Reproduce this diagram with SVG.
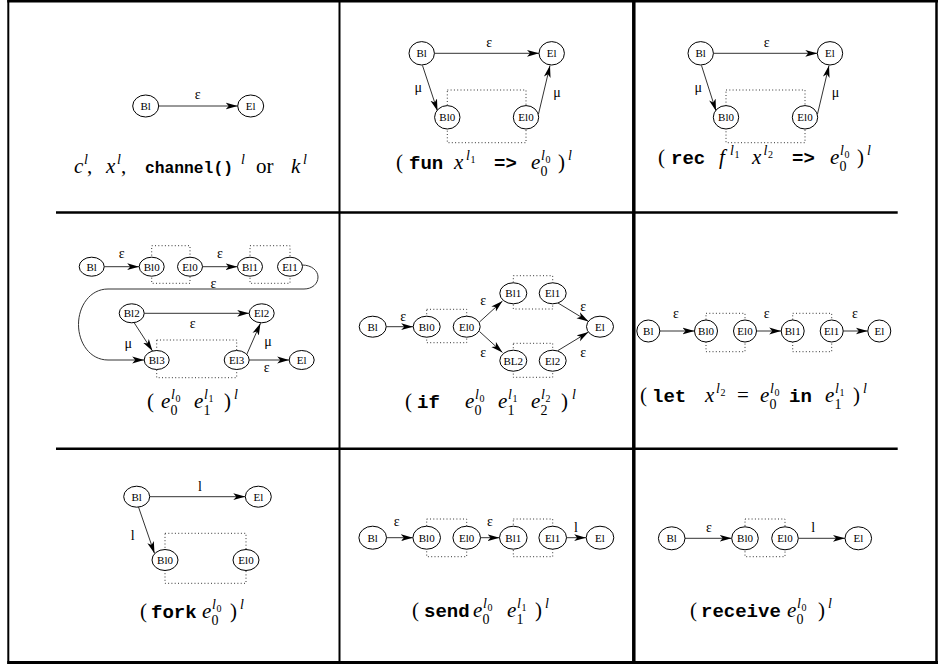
<svg xmlns="http://www.w3.org/2000/svg" width="938" height="665" viewBox="0 0 938 665">
<defs>
<marker id="ah" markerUnits="userSpaceOnUse" markerWidth="12" markerHeight="8" refX="12" refY="4" orient="auto" viewBox="0 0 12 8"><path d="M0,0.6 L12,4 L0,7.4 L3,4 Z" fill="#000"/></marker>
</defs>
<style>
.n ellipse{fill:#fff;stroke:#000;stroke-width:1}
.n text{font-family:"Liberation Serif",serif;font-size:11px;text-anchor:middle}
.e{fill:none;stroke:#333;stroke-width:1;marker-end:url(#ah)}
.lb{font-family:"Liberation Serif",serif;font-size:14px;text-anchor:middle}
.box{fill:none;stroke:#333;stroke-width:1;stroke-dasharray:1 2.3}
.cap text{font-family:"Liberation Serif",serif;font-size:21px}
.cap .i{font-style:italic}
.cap .t{font-family:"Liberation Mono",monospace;font-size:19px;font-weight:bold}
.cap .s{font-style:italic;font-size:14px}
.cap .d{font-size:10px}
.cap .b{font-size:14px}
</style>
<rect width="938" height="665" fill="#fff"/>
<g id="frame" stroke="#000" fill="none">
<line x1="8.3" y1="0" x2="8.3" y2="664" stroke-width="2"/>
<line x1="7.3" y1="1.2" x2="938" y2="1.2" stroke-width="2.4"/>
<line x1="7.3" y1="662.5" x2="938" y2="662.5" stroke-width="3"/>
<line x1="936.5" y1="0" x2="936.5" y2="664" stroke-width="2.5"/>
<line x1="339.5" y1="0" x2="339.5" y2="664" stroke-width="2"/>
<line x1="633.8" y1="0" x2="633.8" y2="664" stroke-width="3.5"/>
<line x1="56" y1="212.5" x2="897.7" y2="212.5" stroke-width="2.5"/>
<line x1="56" y1="448.8" x2="897.7" y2="448.8" stroke-width="2.5"/>
</g>
<g id="boxes">
<rect class="box" x="447.3" y="90" width="78.7" height="52.7"/>
<rect class="box" x="726" y="90" width="79" height="52.7"/>
<rect class="box" x="151.7" y="245.7" width="38.3" height="37.6"/>
<rect class="box" x="250" y="245.7" width="40" height="37.6"/>
<rect class="box" x="156.7" y="340" width="80" height="37.7"/>
<rect class="box" x="426.7" y="309.3" width="40" height="33.4"/>
<rect class="box" x="513.3" y="275.7" width="39.4" height="33.3"/>
<rect class="box" x="513.3" y="343.3" width="39.4" height="34"/>
<rect class="box" x="706" y="313.3" width="39" height="38.4"/>
<rect class="box" x="792.7" y="313.3" width="39" height="38.4"/>
<rect class="box" x="165" y="533.3" width="81" height="50"/>
<rect class="box" x="426.7" y="519" width="40" height="37.7"/>
<rect class="box" x="513.3" y="519" width="39.4" height="37.7"/>
<rect class="box" x="745" y="519" width="40" height="37.7"/>
</g>
<g id="connectors">
<path class="e" d="M158.7,106 L237.7,106"/>
<path class="e" d="M434.4,53.3 L539,53.3"/>
<path class="e" d="M422.5,65.5 L437.5,111"/>
<path class="e" d="M538.5,114 L550,65.5"/>
<path class="e" d="M713.4,53.3 L817.3,53.3"/>
<path class="e" d="M701.5,65.5 L716,111"/>
<path class="e" d="M817.5,114 L829,65.5"/>
<path class="e" d="M104.2,266.7 L139.2,266.7"/>
<path class="e" d="M202.5,266.7 L237.5,266.7"/>
<path class="e" d="M302,265 C312,265 318,271 318,277 C318,284 312,289 304,289 L108,289 C90,289 78.5,306 78.5,324.5 C78.5,343 90,360 108,360 L144.2,360"/>
<path class="e" d="M144.2,313.3 L249.2,313.3"/>
<path class="e" d="M134,322.5 L152.5,351"/>
<path class="e" d="M246.5,355 L260.5,323.2"/>
<path class="e" d="M249.2,360 L289.2,360"/>
<path class="e" d="M386.2,326.7 L413.2,326.7"/>
<path class="e" d="M479.5,322 L502.5,301"/>
<path class="e" d="M479.5,331.5 L502.5,352.5"/>
<path class="e" d="M558,303 L588.5,321.5"/>
<path class="e" d="M558,350.5 L588.5,332"/>
<path class="e" d="M659.8,331 L694.5,331"/>
<path class="e" d="M756.5,331 L781.2,331"/>
<path class="e" d="M843.2,331 L867.8,331"/>
<path class="e" d="M149.7,496.7 L245.3,496.7"/>
<path class="e" d="M138.5,507 L154.5,553.5"/>
<path class="e" d="M386.5,537.7 L412.9,537.7"/>
<path class="e" d="M480.5,537.7 L499.5,537.7"/>
<path class="e" d="M566.5,537.7 L586.2,537.7"/>
<path class="e" d="M685,538.3 L731.7,538.3"/>
<path class="e" d="M798.3,538.3 L845,538.3"/>
</g>
<g id="edge-labels" class="lb">
<text class="lb" x="197.7" y="99">ε</text>
<text class="lb" x="489.3" y="46.5">ε</text>
<text class="lb" x="418.3" y="92">μ</text>
<text class="lb" x="557" y="97">μ</text>
<text class="lb" x="766.7" y="46.5">ε</text>
<text class="lb" x="698.3" y="92">μ</text>
<text class="lb" x="835.5" y="97">μ</text>
<text class="lb" x="121.7" y="258">ε</text>
<text class="lb" x="220" y="258">ε</text>
<text class="lb" x="213.5" y="287.5">ε</text>
<text class="lb" x="192.7" y="328">ε</text>
<text class="lb" x="128.3" y="348">μ</text>
<text class="lb" x="268" y="346">μ</text>
<text class="lb" x="266.7" y="372">ε</text>
<text class="lb" x="403.3" y="321">ε</text>
<text class="lb" x="483.3" y="305">ε</text>
<text class="lb" x="483.3" y="356.5">ε</text>
<text class="lb" x="583.3" y="311">ε</text>
<text class="lb" x="583.3" y="356.5">ε</text>
<text class="lb" x="676" y="318">ε</text>
<text class="lb" x="766.7" y="318">ε</text>
<text class="lb" x="855" y="318">ε</text>
<text class="lb" x="200" y="491">l</text>
<text class="lb" x="132.7" y="540">l</text>
<text class="lb" x="396.7" y="525.5">ε</text>
<text class="lb" x="490" y="525.5">ε</text>
<text class="lb" x="576" y="532">l</text>
<text class="lb" x="709" y="532">ε</text>
<text class="lb" x="813.3" y="531.5">l</text>
</g>
<g id="nodes">
<g id="c1-Bl" class="n"><ellipse cx="145.7" cy="106" rx="13" ry="11"/><text x="145.7" y="109.8">Bl</text></g>
<g id="c1-El" class="n"><ellipse cx="250.7" cy="106" rx="13" ry="11"/><text x="250.7" y="109.8">El</text></g>
<g id="c2-Bl" class="n"><ellipse cx="421.7" cy="53.3" rx="12.7" ry="11.7"/><text x="421.7" y="57.1">Bl</text></g>
<g id="c2-El" class="n"><ellipse cx="551.7" cy="53.3" rx="12.7" ry="11.7"/><text x="551.7" y="57.1">El</text></g>
<g id="c2-Bl0" class="n"><ellipse cx="447.3" cy="117.3" rx="12.7" ry="11.7"/><text x="447.3" y="121.1">Bl0</text></g>
<g id="c2-El0" class="n"><ellipse cx="526" cy="117.3" rx="12.7" ry="11.7"/><text x="526" y="121.1">El0</text></g>
<g id="c3-Bl" class="n"><ellipse cx="700.7" cy="53.3" rx="12.7" ry="11.7"/><text x="700.7" y="57.1">Bl</text></g>
<g id="c3-El" class="n"><ellipse cx="830" cy="53.3" rx="12.7" ry="11.7"/><text x="830" y="57.1">El</text></g>
<g id="c3-Bl0" class="n"><ellipse cx="726" cy="117.3" rx="12.7" ry="11.7"/><text x="726" y="121.1">Bl0</text></g>
<g id="c3-El0" class="n"><ellipse cx="805" cy="117.3" rx="12.7" ry="11.7"/><text x="805" y="121.1">El0</text></g>
<g id="c4-Bl" class="n"><ellipse cx="91.7" cy="266.7" rx="12.5" ry="9.5"/><text x="91.7" y="270.5">Bl</text></g>
<g id="c4-Bl0" class="n"><ellipse cx="151.7" cy="266.7" rx="12.5" ry="9.5"/><text x="151.7" y="270.5">Bl0</text></g>
<g id="c4-El0" class="n"><ellipse cx="190" cy="266.7" rx="12.5" ry="9.5"/><text x="190" y="270.5">El0</text></g>
<g id="c4-Bl1" class="n"><ellipse cx="250" cy="266.7" rx="12.5" ry="9.5"/><text x="250" y="270.5">Bl1</text></g>
<g id="c4-El1" class="n"><ellipse cx="290" cy="266.7" rx="12.5" ry="9.5"/><text x="290" y="270.5">El1</text></g>
<g id="c4-Bl2" class="n"><ellipse cx="131.7" cy="313.3" rx="12.5" ry="9.5"/><text x="131.7" y="317.1">Bl2</text></g>
<g id="c4-El2" class="n"><ellipse cx="261.7" cy="313.3" rx="12.5" ry="9.5"/><text x="261.7" y="317.1">El2</text></g>
<g id="c4-Bl3" class="n"><ellipse cx="156.7" cy="360" rx="12.5" ry="9.5"/><text x="156.7" y="363.8">Bl3</text></g>
<g id="c4-El3" class="n"><ellipse cx="236.7" cy="360" rx="12.5" ry="9.5"/><text x="236.7" y="363.8">El3</text></g>
<g id="c4-El" class="n"><ellipse cx="301.7" cy="360" rx="12.5" ry="9.5"/><text x="301.7" y="363.8">El</text></g>
<g id="c5-Bl" class="n"><ellipse cx="372.7" cy="326.7" rx="13.5" ry="10.5"/><text x="372.7" y="330.5">Bl</text></g>
<g id="c5-Bl0" class="n"><ellipse cx="426.7" cy="326.7" rx="13.5" ry="10.5"/><text x="426.7" y="330.5">Bl0</text></g>
<g id="c5-El0" class="n"><ellipse cx="466.7" cy="326.7" rx="13.5" ry="10.5"/><text x="466.7" y="330.5">El0</text></g>
<g id="c5-Bl1" class="n"><ellipse cx="513.3" cy="293.3" rx="13.5" ry="10.5"/><text x="513.3" y="297.1">Bl1</text></g>
<g id="c5-El1" class="n"><ellipse cx="552.7" cy="293.3" rx="13.5" ry="10.5"/><text x="552.7" y="297.1">El1</text></g>
<g id="c5-BL2" class="n"><ellipse cx="513.3" cy="360.7" rx="13.5" ry="10.5"/><text x="513.3" y="364.5">BL2</text></g>
<g id="c5-El2" class="n"><ellipse cx="552.7" cy="360.7" rx="13.5" ry="10.5"/><text x="552.7" y="364.5">El2</text></g>
<g id="c5-El" class="n"><ellipse cx="600" cy="326.7" rx="13.5" ry="10.5"/><text x="600" y="330.5">El</text></g>
<g id="c6-Bl" class="n"><ellipse cx="648.3" cy="331" rx="11.5" ry="11"/><text x="648.3" y="334.8">Bl</text></g>
<g id="c6-Bl0" class="n"><ellipse cx="706" cy="331" rx="11.5" ry="11"/><text x="706" y="334.8">Bl0</text></g>
<g id="c6-El0" class="n"><ellipse cx="745" cy="331" rx="11.5" ry="11"/><text x="745" y="334.8">El0</text></g>
<g id="c6-Bl1" class="n"><ellipse cx="792.7" cy="331" rx="11.5" ry="11"/><text x="792.7" y="334.8">Bl1</text></g>
<g id="c6-El1" class="n"><ellipse cx="831.7" cy="331" rx="11.5" ry="11"/><text x="831.7" y="334.8">El1</text></g>
<g id="c6-El" class="n"><ellipse cx="879.3" cy="331" rx="11.5" ry="11"/><text x="879.3" y="334.8">El</text></g>
<g id="c7-Bl" class="n"><ellipse cx="136.7" cy="496.7" rx="13" ry="10.5"/><text x="136.7" y="500.5">Bl</text></g>
<g id="c7-El" class="n"><ellipse cx="258.3" cy="496.7" rx="13" ry="10.5"/><text x="258.3" y="500.5">El</text></g>
<g id="c7-Bl0" class="n"><ellipse cx="165" cy="560" rx="13" ry="10.5"/><text x="165" y="563.8">Bl0</text></g>
<g id="c7-El0" class="n"><ellipse cx="246" cy="560" rx="13" ry="10.5"/><text x="246" y="563.8">El0</text></g>
<g id="c8-Bl" class="n"><ellipse cx="372.7" cy="537.7" rx="13.8" ry="11.5"/><text x="372.7" y="541.5">Bl</text></g>
<g id="c8-Bl0" class="n"><ellipse cx="426.7" cy="537.7" rx="13.8" ry="11.5"/><text x="426.7" y="541.5">Bl0</text></g>
<g id="c8-El0" class="n"><ellipse cx="466.7" cy="537.7" rx="13.8" ry="11.5"/><text x="466.7" y="541.5">El0</text></g>
<g id="c8-Bl1" class="n"><ellipse cx="513.3" cy="537.7" rx="13.8" ry="11.5"/><text x="513.3" y="541.5">Bl1</text></g>
<g id="c8-El1" class="n"><ellipse cx="552.7" cy="537.7" rx="13.8" ry="11.5"/><text x="552.7" y="541.5">El1</text></g>
<g id="c8-El" class="n"><ellipse cx="600" cy="537.7" rx="13.8" ry="11.5"/><text x="600" y="541.5">El</text></g>
<g id="c9-Bl" class="n"><ellipse cx="671.7" cy="538.3" rx="13.3" ry="11.5"/><text x="671.7" y="542.1">Bl</text></g>
<g id="c9-Bl0" class="n"><ellipse cx="745" cy="538.3" rx="13.3" ry="11.5"/><text x="745" y="542.1">Bl0</text></g>
<g id="c9-El0" class="n"><ellipse cx="785" cy="538.3" rx="13.3" ry="11.5"/><text x="785" y="542.1">El0</text></g>
<g id="c9-El" class="n"><ellipse cx="858.3" cy="538.3" rx="13.3" ry="11.5"/><text x="858.3" y="542.1">El</text></g>
</g>
<g id="cap1" class="cap">
<text class="i" x="74" y="173">c</text><text class="s" x="84" y="164">l</text><text x="87" y="173">,</text>
<text class="i" x="106" y="173">x</text><text class="s" x="117" y="164">l</text><text x="121" y="173">,</text>
<text class="t" x="145" y="173" style="font-size:16.3px">channel()</text><text class="s" x="241" y="164">l</text>
<text x="256" y="173">or</text>
<text class="i" x="291" y="173">k</text><text class="s" x="303" y="164">l</text>
</g>
<g id="cap2" class="cap">
<text x="396" y="169">(</text><text class="t" x="409" y="169">fun</text>
<text class="i" x="454" y="169">x</text><text class="s" x="466" y="160">l</text><text class="d" x="470.5" y="162.5">1</text>
<text class="t" x="494" y="169">=&gt;</text>
<text class="i" x="531" y="169">e</text><text class="s" x="541" y="160">l</text><text class="d" x="545.5" y="162.5">0</text><text class="b" x="540.5" y="176">0</text>
<text x="558" y="169">)</text><text class="s" x="568" y="160">l</text>
</g>
<g id="cap3" class="cap">
<text x="658" y="164">(</text><text class="t" x="671" y="164">rec</text>
<text class="i" x="719" y="164">f</text><text class="s" x="730" y="155">l</text><text class="d" x="734.5" y="157.5">1</text>
<text class="i" x="752" y="164">x</text><text class="s" x="763.5" y="155">l</text><text class="d" x="768" y="157.5">2</text>
<text class="t" x="792" y="164">=&gt;</text>
<text class="i" x="830" y="164">e</text><text class="s" x="840" y="155">l</text><text class="d" x="844.5" y="157.5">0</text><text class="b" x="839.5" y="171">0</text>
<text x="857" y="164">)</text><text class="s" x="867" y="155">l</text>
</g>
<g id="cap4" class="cap">
<text x="147" y="408">(</text>
<text class="i" x="161" y="408">e</text><text class="s" x="171" y="399">l</text><text class="d" x="175.5" y="401.5">0</text><text class="b" x="170.5" y="415">0</text>
<text class="i" x="194" y="408">e</text><text class="s" x="204" y="399">l</text><text class="d" x="208.5" y="401.5">1</text><text class="b" x="203.5" y="415">1</text>
<text x="224" y="408">)</text><text class="s" x="234" y="399">l</text>
</g>
<g id="cap5" class="cap">
<text x="405" y="408">(</text><text class="t" x="417" y="408">if</text>
<text class="i" x="465" y="408">e</text><text class="s" x="475" y="399">l</text><text class="d" x="479.5" y="401.5">0</text><text class="b" x="474.5" y="415">0</text>
<text class="i" x="498" y="408">e</text><text class="s" x="508" y="399">l</text><text class="d" x="512.5" y="401.5">1</text><text class="b" x="507.5" y="415">1</text>
<text class="i" x="531" y="408">e</text><text class="s" x="541" y="399">l</text><text class="d" x="545.5" y="401.5">2</text><text class="b" x="540.5" y="415">2</text>
<text x="561" y="408">)</text><text class="s" x="572" y="399">l</text>
</g>
<g id="cap6" class="cap">
<text x="640" y="402">(</text><text class="t" x="652" y="402">let</text>
<text class="i" x="705" y="402">x</text><text class="s" x="716" y="393">l</text><text class="d" x="720.5" y="395.5">2</text>
<text x="737" y="402">=</text>
<text class="i" x="760" y="402">e</text><text class="s" x="770" y="393">l</text><text class="d" x="774.5" y="395.5">0</text><text class="b" x="769.5" y="409">0</text>
<text class="t" x="789" y="402">in</text>
<text class="i" x="825" y="402">e</text><text class="s" x="835" y="393">l</text><text class="d" x="839.5" y="395.5">1</text><text class="b" x="834.5" y="409">1</text>
<text x="853" y="402">)</text><text class="s" x="863" y="393">l</text>
</g>
<g id="cap7" class="cap">
<text x="140" y="618">(</text><text class="t" x="151" y="618">fork</text>
<text class="i" x="202" y="618">e</text><text class="s" x="212" y="609">l</text><text class="d" x="216.5" y="611.5">0</text><text class="b" x="211.5" y="625">0</text>
<text x="230" y="618">)</text><text class="s" x="240" y="609">l</text>
</g>
<g id="cap8" class="cap">
<text x="412" y="617">(</text><text class="t" x="424" y="617">send</text>
<text class="i" x="473" y="617">e</text><text class="s" x="483" y="608">l</text><text class="d" x="487.5" y="610.5">0</text><text class="b" x="482.5" y="624">0</text>
<text class="i" x="507" y="617">e</text><text class="s" x="517" y="608">l</text><text class="d" x="521.5" y="610.5">1</text><text class="b" x="516.5" y="624">1</text>
<text x="535" y="617">)</text><text class="s" x="545" y="608">l</text>
</g>
<g id="cap9" class="cap">
<text x="690" y="617">(</text><text class="t" x="701" y="617">receive</text>
<text class="i" x="787" y="617">e</text><text class="s" x="797" y="608">l</text><text class="d" x="801.5" y="610.5">0</text><text class="b" x="796.5" y="624">0</text>
<text x="818" y="617">)</text><text class="s" x="828" y="608">l</text>
</g>
</svg>
